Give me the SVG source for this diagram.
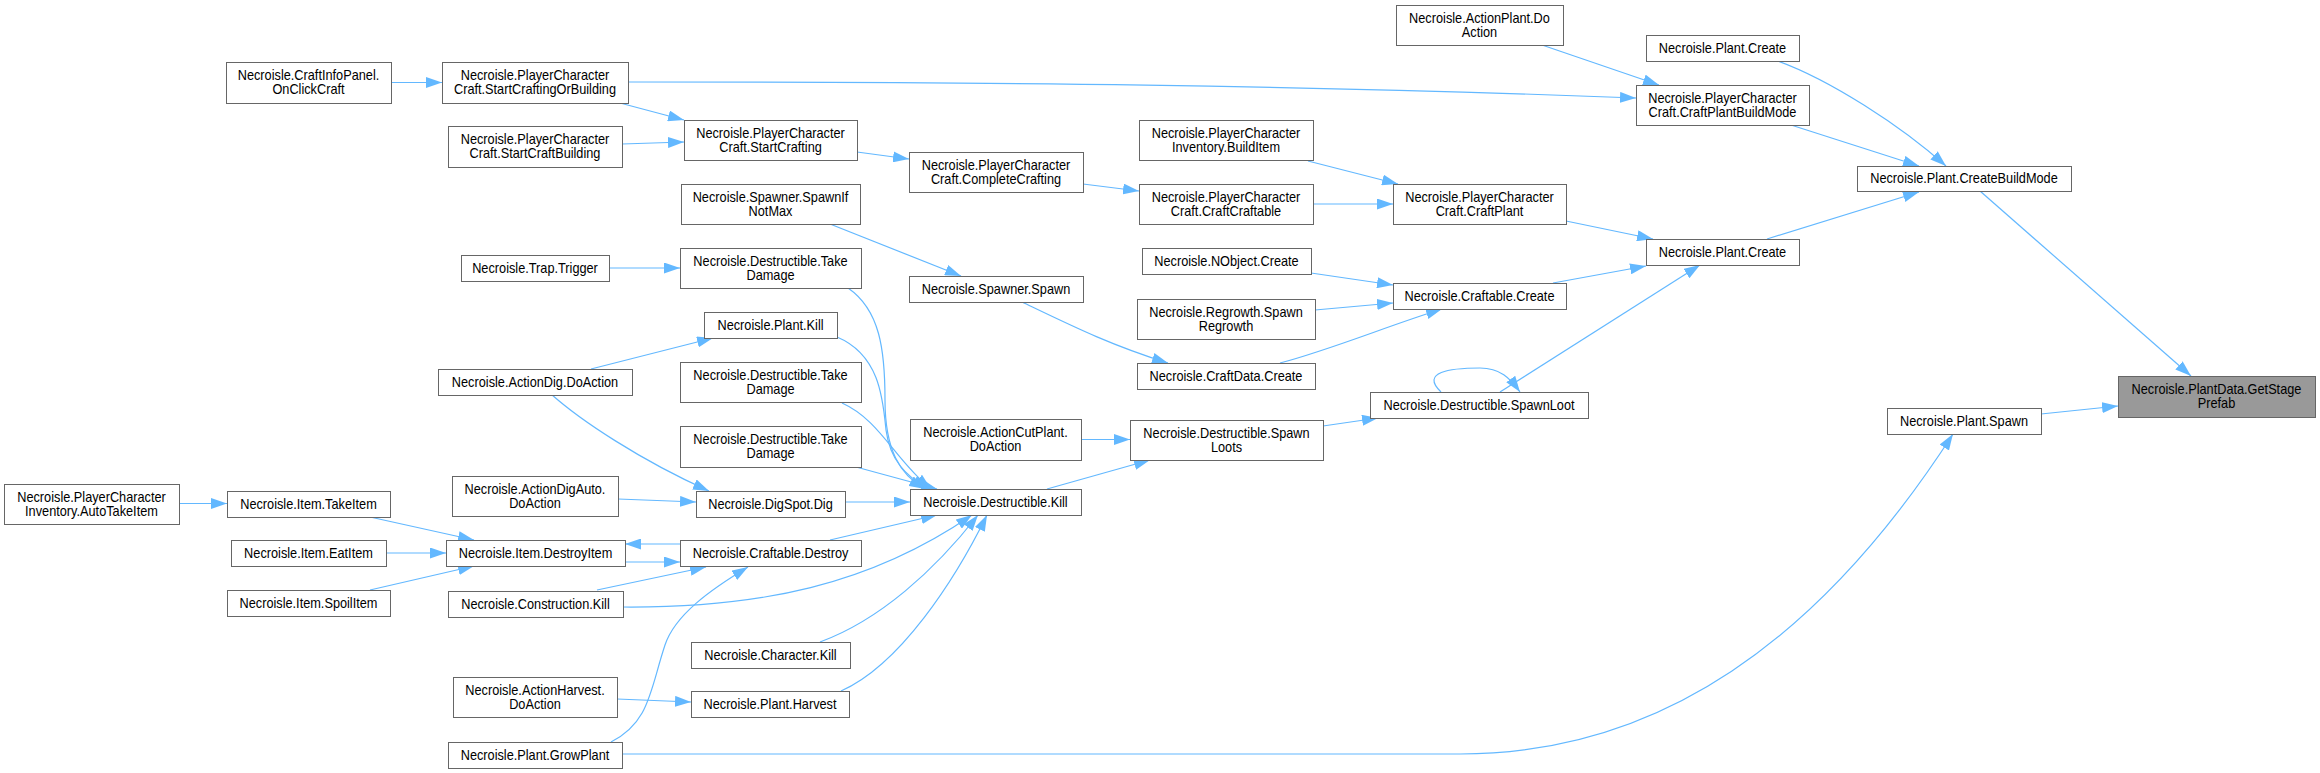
<svg xmlns="http://www.w3.org/2000/svg" width="2320" height="773" viewBox="0 0 2320 773">
<defs>
<marker id="arr" markerUnits="userSpaceOnUse" markerWidth="16" markerHeight="11" refX="16" refY="5.5" orient="auto">
<path d="M0,0 L16,5.5 L0,11 Z" fill="#63b8ff"/>
</marker>
<style>
.node rect{fill:#ffffff;stroke:#666666;stroke-width:1}
.root rect{fill:#999999;stroke:#666666;stroke-width:1}
text{font-family:"Liberation Sans",Arial,sans-serif;font-size:14px;text-anchor:middle;fill:#000000;transform-box:fill-box;transform-origin:center;transform:scaleX(0.91)}
.edges path{fill:none;stroke:#63b8ff;stroke-width:1.2;marker-end:url(#arr)}
</style>
</defs>
<rect width="2320" height="773" fill="#ffffff"/>
<g class="edges" id="edges">
<path d="M391,82.5 L442,82.5"/>
<path d="M628,82 C1000,82 1300,85 1636,98"/>
<path d="M620,103 L684,120"/>
<path d="M622,144 L684,142"/>
<path d="M857,152 L909,159"/>
<path d="M1083,184 L1139,191"/>
<path d="M1308,161 L1398,184"/>
<path d="M1313,204 L1393,204"/>
<path d="M1566,221 L1653,239"/>
<path d="M1311,273 L1393,285"/>
<path d="M1315,310 L1393,303"/>
<path d="M1280,363 C1330,350 1390,325 1442,309"/>
<path d="M1553,283 L1646,266"/>
<path d="M1500,392 L1700,265"/>
<path d="M1441,392 C1420,372 1450,368 1480,368 C1500,368 1510,378 1520,392"/>
<path d="M1323,426 L1378,418"/>
<path d="M1047,489 L1150,460"/>
<path d="M1081,439.5 L1130,439.5"/>
<path d="M1767,239 L1919,192"/>
<path d="M1791,125 L1919,166"/>
<path d="M1778,61 C1830,80 1900,125 1946,166"/>
<path d="M1542,45 L1659,85"/>
<path d="M1980,191 L2191,376"/>
<path d="M2041,414 L2118,406"/>
<path d="M622,754 L1460,754 C1660,754 1820,640 1953,434"/>
<path d="M611,742 C650,722 650,690 665,645 C675,615 710,590 748,567"/>
<path d="M617,699 L691,702"/>
<path d="M841,691 C900,665 955,580 987,515"/>
<path d="M820,642 C880,620 935,570 978,515"/>
<path d="M623,607 C760,608 870,585 972,515"/>
<path d="M597,590 L706,567"/>
<path d="M625,562 L680,562"/>
<path d="M680,544 L625,544"/>
<path d="M830,540 L937,515"/>
<path d="M845,502 L910,502"/>
<path d="M618,499 L696,502"/>
<path d="M551,394 C580,420 640,460 709,491"/>
<path d="M591,369 L713,338"/>
<path d="M856,467 L937,489"/>
<path d="M842,403 C880,420 895,460 931,489"/>
<path d="M837,337 C880,355 883,400 886,430 C890,460 905,475 928,489"/>
<path d="M848,288 C880,310 885,350 885,400 C885,450 900,475 925,489"/>
<path d="M830,224 L961,276"/>
<path d="M1022,302 C1070,325 1110,345 1168,363"/>
<path d="M609,268 L680,268"/>
<path d="M370,517 L474,540"/>
<path d="M386,553 L446,553"/>
<path d="M370,590 L474,566"/>
<path d="M179,503.5 L227,503.5"/>
</g>
<g class="node" id="n_onclick"><rect x="226.5" y="62.5" width="165" height="41"/><text x="308.5" y="80">Necroisle.CraftInfoPanel.</text><text x="308.5" y="94">OnClickCraft</text></g>
<g class="node" id="n_scob"><rect x="442.5" y="62.5" width="186" height="41"/><text x="535" y="80">Necroisle.PlayerCharacter</text><text x="535" y="94">Craft.StartCraftingOrBuilding</text></g>
<g class="node" id="n_scbuild"><rect x="448.5" y="126.5" width="174" height="41"/><text x="535" y="144">Necroisle.PlayerCharacter</text><text x="535" y="158">Craft.StartCraftBuilding</text></g>
<g class="node" id="n_trap"><rect x="461.5" y="255.5" width="148" height="26"/><text x="535" y="273">Necroisle.Trap.Trigger</text></g>
<g class="node" id="n_actiondig"><rect x="438.5" y="369.5" width="194" height="26"/><text x="535" y="387">Necroisle.ActionDig.DoAction</text></g>
<g class="node" id="n_autotake"><rect x="4.5" y="484.5" width="175" height="40"/><text x="91.5" y="502">Necroisle.PlayerCharacter</text><text x="91.5" y="516">Inventory.AutoTakeItem</text></g>
<g class="node" id="n_takeitem"><rect x="227.5" y="491.5" width="163" height="26"/><text x="308.5" y="509">Necroisle.Item.TakeItem</text></g>
<g class="node" id="n_eatitem"><rect x="231.5" y="540.5" width="155" height="26"/><text x="308.5" y="558">Necroisle.Item.EatItem</text></g>
<g class="node" id="n_spoilitem"><rect x="227.5" y="590.5" width="163" height="26"/><text x="308.5" y="608">Necroisle.Item.SpoilItem</text></g>
<g class="node" id="n_digauto"><rect x="452.5" y="476.5" width="166" height="40"/><text x="535" y="494">Necroisle.ActionDigAuto.</text><text x="535" y="508">DoAction</text></g>
<g class="node" id="n_destroyitem"><rect x="446.5" y="540.5" width="179" height="26"/><text x="535.5" y="558">Necroisle.Item.DestroyItem</text></g>
<g class="node" id="n_constrkill"><rect x="448.5" y="591.5" width="175" height="26"/><text x="535.5" y="609">Necroisle.Construction.Kill</text></g>
<g class="node" id="n_actharvest"><rect x="453.5" y="677.5" width="164" height="40"/><text x="535" y="695">Necroisle.ActionHarvest.</text><text x="535" y="709">DoAction</text></g>
<g class="node" id="n_growplant"><rect x="448.5" y="742.5" width="174" height="26"/><text x="535" y="760">Necroisle.Plant.GrowPlant</text></g>
<g class="node" id="n_startcrafting"><rect x="684.5" y="120.5" width="173" height="40"/><text x="770.5" y="138">Necroisle.PlayerCharacter</text><text x="770.5" y="152">Craft.StartCrafting</text></g>
<g class="node" id="n_spawnifnotmax"><rect x="681.5" y="184.5" width="179" height="40"/><text x="770.5" y="202">Necroisle.Spawner.SpawnIf</text><text x="770.5" y="216">NotMax</text></g>
<g class="node" id="n_takedmg1"><rect x="680.5" y="248.5" width="181" height="40"/><text x="770.5" y="266">Necroisle.Destructible.Take</text><text x="770.5" y="280">Damage</text></g>
<g class="node" id="n_plantkill"><rect x="704.5" y="312.5" width="133" height="26"/><text x="770.5" y="330">Necroisle.Plant.Kill</text></g>
<g class="node" id="n_takedmg2"><rect x="680.5" y="362.5" width="181" height="40"/><text x="770.5" y="380">Necroisle.Destructible.Take</text><text x="770.5" y="394">Damage</text></g>
<g class="node" id="n_takedmg3"><rect x="680.5" y="426.5" width="181" height="41"/><text x="770.5" y="444">Necroisle.Destructible.Take</text><text x="770.5" y="458">Damage</text></g>
<g class="node" id="n_digspot"><rect x="696.5" y="491.5" width="149" height="26"/><text x="770.5" y="509">Necroisle.DigSpot.Dig</text></g>
<g class="node" id="n_craftdestroy"><rect x="680.5" y="540.5" width="181" height="26"/><text x="770.5" y="558">Necroisle.Craftable.Destroy</text></g>
<g class="node" id="n_charkill"><rect x="691.5" y="642.5" width="159" height="26"/><text x="770.5" y="660">Necroisle.Character.Kill</text></g>
<g class="node" id="n_harvest"><rect x="691.5" y="691.5" width="158" height="26"/><text x="770" y="709">Necroisle.Plant.Harvest</text></g>
<g class="node" id="n_completecrafting"><rect x="909.5" y="152.5" width="174" height="40"/><text x="996" y="170">Necroisle.PlayerCharacter</text><text x="996" y="184">Craft.CompleteCrafting</text></g>
<g class="node" id="n_spawn"><rect x="909.5" y="276.5" width="174" height="26"/><text x="996" y="294">Necroisle.Spawner.Spawn</text></g>
<g class="node" id="n_cutplant"><rect x="910.5" y="419.5" width="171" height="41"/><text x="995.5" y="437">Necroisle.ActionCutPlant.</text><text x="995.5" y="451">DoAction</text></g>
<g class="node" id="n_destkill"><rect x="910.5" y="489.5" width="171" height="26"/><text x="995.5" y="507">Necroisle.Destructible.Kill</text></g>
<g class="node" id="n_builditem"><rect x="1139.5" y="120.5" width="174" height="40"/><text x="1226" y="138">Necroisle.PlayerCharacter</text><text x="1226" y="152">Inventory.BuildItem</text></g>
<g class="node" id="n_craftcraftable"><rect x="1139.5" y="184.5" width="174" height="40"/><text x="1226" y="202">Necroisle.PlayerCharacter</text><text x="1226" y="216">Craft.CraftCraftable</text></g>
<g class="node" id="n_nobject"><rect x="1142.5" y="248.5" width="169" height="26"/><text x="1226.5" y="266">Necroisle.NObject.Create</text></g>
<g class="node" id="n_regrowth"><rect x="1137.5" y="299.5" width="178" height="40"/><text x="1226" y="317">Necroisle.Regrowth.Spawn</text><text x="1226" y="331">Regrowth</text></g>
<g class="node" id="n_craftdata"><rect x="1137.5" y="363.5" width="178" height="26"/><text x="1226" y="381">Necroisle.CraftData.Create</text></g>
<g class="node" id="n_spawnloots"><rect x="1130.5" y="420.5" width="193" height="40"/><text x="1226.5" y="438">Necroisle.Destructible.Spawn</text><text x="1226.5" y="452">Loots</text></g>
<g class="node" id="n_actionplant"><rect x="1396.5" y="5.5" width="167" height="40"/><text x="1479.5" y="23">Necroisle.ActionPlant.Do</text><text x="1479.5" y="37">Action</text></g>
<g class="node" id="n_craftplant"><rect x="1393.5" y="184.5" width="173" height="40"/><text x="1479.5" y="202">Necroisle.PlayerCharacter</text><text x="1479.5" y="216">Craft.CraftPlant</text></g>
<g class="node" id="n_craftablecreate"><rect x="1393.5" y="283.5" width="173" height="26"/><text x="1479.5" y="301">Necroisle.Craftable.Create</text></g>
<g class="node" id="n_spawnloot"><rect x="1370.5" y="392.5" width="218" height="26"/><text x="1479" y="410">Necroisle.Destructible.SpawnLoot</text></g>
<g class="node" id="n_plantcreate1"><rect x="1646.5" y="35.5" width="153" height="26"/><text x="1722.5" y="53">Necroisle.Plant.Create</text></g>
<g class="node" id="n_cpbm"><rect x="1636.5" y="85.5" width="173" height="40"/><text x="1722.5" y="103">Necroisle.PlayerCharacter</text><text x="1722.5" y="117">Craft.CraftPlantBuildMode</text></g>
<g class="node" id="n_plantcreate2"><rect x="1646.5" y="239.5" width="153" height="26"/><text x="1722.5" y="257">Necroisle.Plant.Create</text></g>
<g class="node" id="n_plantspawn"><rect x="1887.5" y="408.5" width="154" height="26"/><text x="1964" y="426">Necroisle.Plant.Spawn</text></g>
<g class="node" id="n_cbm"><rect x="1857.5" y="166.5" width="214" height="25"/><text x="1964" y="183.5">Necroisle.Plant.CreateBuildMode</text></g>
<g class="root" id="n_root"><rect x="2118.5" y="376.5" width="197" height="41"/><text x="2216.5" y="394">Necroisle.PlantData.GetStage</text><text x="2216.5" y="408">Prefab</text></g>
</svg>
